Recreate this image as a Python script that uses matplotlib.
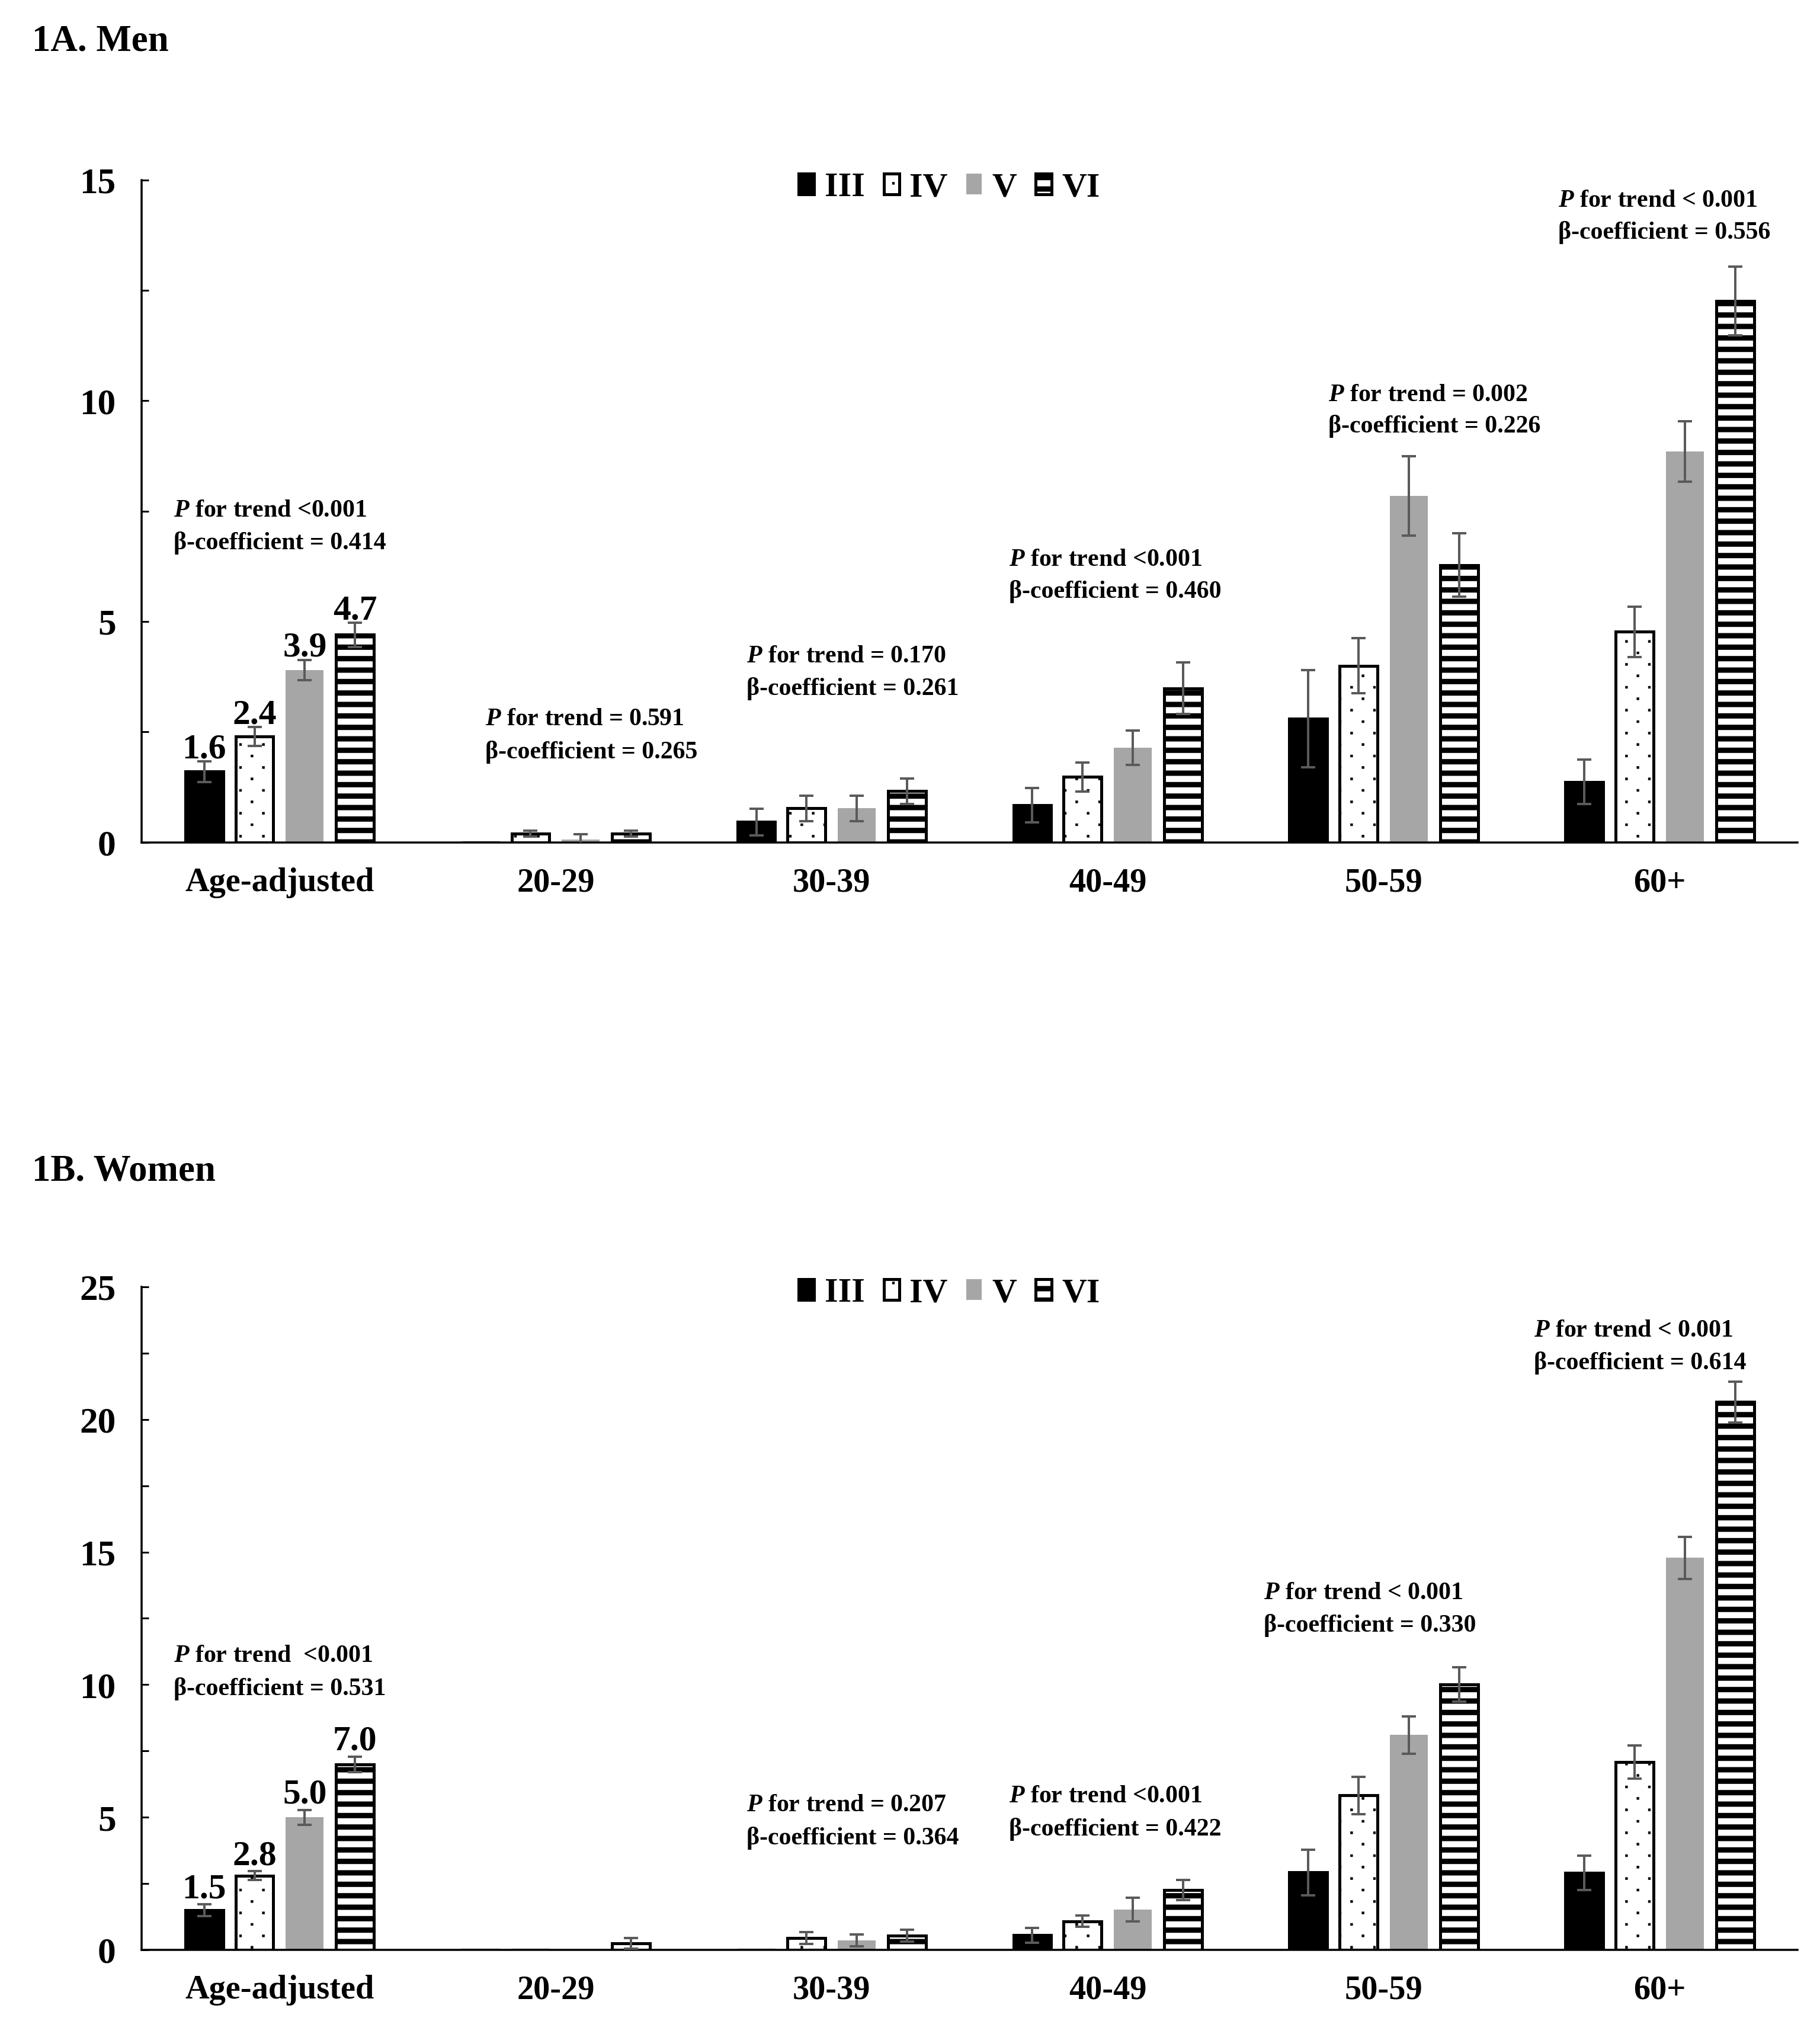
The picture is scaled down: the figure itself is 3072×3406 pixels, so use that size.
import numpy as np
import matplotlib
matplotlib.use("Agg")
import matplotlib.pyplot as plt
import matplotlib.hatch as mhatch
from matplotlib.path import Path
from matplotlib.ticker import MultipleLocator

# ---------------- data ----------------
categories = ["Age-adjusted", "20-29", "30-39", "40-49", "50-59", "60+"]
series_names = ["III", "IV", "V", "VI"]

# Men (panel 1A)
men_III = [1.6, 0.0, 0.46, 0.84, 2.80, 1.37]
men_IV = [2.4, 0.20, 0.77, 1.48, 4.00, 4.77]
men_V = [3.9, 0.07, 0.77, 2.14, 7.85, 8.85]
men_VI = [4.7, 0.20, 1.16, 3.49, 6.28, 12.26]
men_III_err = [0.23, 0.0, 0.30, 0.39, 1.10, 0.50]
men_IV_err = [0.21, 0.07, 0.29, 0.33, 0.62, 0.57]
men_V_err = [0.23, 0.12, 0.29, 0.39, 0.90, 0.68]
men_VI_err = [0.27, 0.07, 0.29, 0.58, 0.72, 0.78]
men_ptrend = ["<0.001", "= 0.591", "= 0.170", "<0.001", "= 0.002", "< 0.001"]
men_beta = ["0.414", "0.265", "0.261", "0.460", "0.226", "0.556"]

# Women (panel 1B)
women_III = [1.5, 0.0, 0.0, 0.55, 2.92, 2.90]
women_IV = [2.8, 0.0, 0.44, 1.08, 5.82, 7.08]
women_V = [5.0, 0.0, 0.35, 1.52, 8.10, 14.78]
women_VI = [7.0, 0.25, 0.53, 2.26, 10.0, 20.66]
women_III_err = [0.22, 0.0, 0.0, 0.28, 0.86, 0.65]
women_IV_err = [0.16, 0.0, 0.22, 0.22, 0.71, 0.63]
women_V_err = [0.28, 0.0, 0.22, 0.45, 0.70, 0.80]
women_VI_err = [0.29, 0.20, 0.22, 0.38, 0.65, 0.77]
women_ptrend = [" <0.001", None, "= 0.207", "<0.001", "< 0.001", "< 0.001"]
women_beta = ["0.531", None, "0.364", "0.422", "0.330", "0.614"]

# ---------------- layout / style ----------------
DPI = 116
W, H = 3072, 3406
plt.rcParams["font.family"] = ["Liberation Serif", "DejaVu Serif"]
plt.rcParams["font.weight"] = "bold"
plt.rcParams["mathtext.fontset"] = "custom"
plt.rcParams["mathtext.it"] = "Liberation Serif:italic:bold"
plt.rcParams["mathtext.rm"] = "Liberation Serif:bold"
plt.rcParams["mathtext.bf"] = "Liberation Serif:bold"


# sparse staggered square-dot hatch (replaces the '.' pattern)
class SparseDots(mhatch.HatchPatternBase):
    half = 0.016

    def __init__(self, hatch, density):
        n = hatch.count(".")
        self.rows = 6 * n
        self.cols = 3 * n
        self.centers = []
        if n:
            for r in range(self.rows + 1):
                y = r / self.rows
                if r % 2 == 0:
                    xs = np.arange(self.cols + 1) / self.cols
                else:
                    xs = (np.arange(self.cols) + 0.5) / self.cols
                for xx in xs:
                    self.centers.append((xx, y))
        self.num_vertices = len(self.centers) * 5

    def set_vertices_and_codes(self, vertices, codes):
        h = self.half
        sq = np.array([[-h, -h], [h, -h], [h, h], [-h, h], [-h, -h]])
        sc = [Path.MOVETO, Path.LINETO, Path.LINETO, Path.LINETO, Path.CLOSEPOLY]
        for k, (cx, cy) in enumerate(self.centers):
            vertices[5 * k:5 * k + 5] = sq + [cx, cy]
            codes[5 * k:5 * k + 5] = sc


mhatch._hatch_types = [SparseDots if t is mhatch.SmallFilledCircles else t
                       for t in mhatch._hatch_types]

fig = plt.figure(figsize=((W + 0.4) / DPI, (H + 0.4) / DPI), dpi=DPI)

left_px, right_px = 239, 3034
ax_top = fig.add_axes([left_px / W, 1 - 1422 / H, (right_px - left_px) / W, (1422 - 304) / H])
ax_bot = fig.add_axes([left_px / W, 1 - 3291 / H, (right_px - left_px) / W, (3291 - 2172) / H])

bw = 0.137
pitch = 0.182
offsets = [(-1.5 + i) * pitch for i in range(4)]
px2pt = 72.0 / DPI
edge_lw = 5 * px2pt
styles = [
    dict(fc="black", ec="black", lw=edge_lw, hatch=None, hlw=None),
    dict(fc="white", ec="black", lw=edge_lw, hatch=".", hlw=0.4),
    dict(fc="#a6a6a6", ec="none", lw=0, hatch=None, hlw=None),
    dict(fc="white", ec="black", lw=edge_lw, hatch="-", hlw=9 * px2pt),
]
err_color = "#5a5a5a"

# annotation positions (x in category units, y of each line in data units)
men_ann_pos = [(-0.384, 7.51, 6.78), (0.745, 2.79, 2.05), (1.692, 4.21, 3.49),
               (2.643, 6.40, 5.68), (3.80, 10.13, 9.43), (4.631, 14.53, 13.81)]
women_ann_pos = [(-0.384, 11.08, 9.85), None, (1.692, 5.45, 4.22),
                 (2.643, 5.79, 4.56), (3.566, 13.45, 12.24), (4.545, 23.35, 22.14)]


def set_hatch_lw(artist, lw):
    if lw is not None and hasattr(artist, "set_hatch_linewidth"):
        artist.set_hatch_linewidth(lw)


def draw_panel(ax, vals, errs, ymax, ptrend, beta, ann_pos, label_off, legend_y):
    x = np.arange(len(categories))
    for i in range(4):
        st = styles[i]
        v = np.asarray(vals[i], dtype=float)
        e = np.asarray(errs[i], dtype=float)
        xs = x + offsets[i]
        with plt.rc_context({"hatch.linewidth": st["hlw"] if st["hlw"] else 1.0}):
            bars = ax.bar(xs, v, width=bw, color=st["fc"], edgecolor=st["ec"],
                          linewidth=st["lw"], hatch=st["hatch"], label=series_names[i],
                          zorder=2)
        for b in bars:
            set_hatch_lw(b, st["hlw"])
        m = e > 0
        ax.errorbar(xs[m], v[m], yerr=e[m], fmt="none", ecolor=err_color,
                    elinewidth=4 * px2pt, capsize=12 * px2pt, capthick=4 * px2pt,
                    zorder=3)
        ax.annotate(f"{v[0]:.1f}", (xs[0], v[0] + e[0]), xytext=(0, label_off),
                    textcoords="offset points", ha="center", va="baseline",
                    fontsize=37, fontweight="bold")

    for j in range(len(categories)):
        if ann_pos[j] is None or ptrend[j] is None:
            continue
        ax_x, y1, y2 = ann_pos[j]
        ax.text(ax_x, y1, "$P$ for trend " + ptrend[j], ha="left", va="center",
                fontsize=26, fontweight="bold")
        ax.text(ax_x, y2, "\u03b2-coefficient = " + beta[j], ha="left", va="center",
                fontsize=26, fontweight="bold")

    ax.set_xlim(-0.5, len(categories) - 0.5)
    ax.set_ylim(0, ymax)
    ax.set_xticks(x)
    ax.set_xticklabels(categories, fontsize=35, fontweight="bold")
    ax.tick_params(axis="x", length=0, pad=26)
    ax.yaxis.set_major_locator(MultipleLocator(5))
    ax.yaxis.set_minor_locator(MultipleLocator(2.5))
    ax.tick_params(axis="y", which="both", direction="in", length=12 * px2pt,
                   width=3 * px2pt, pad=27, labelsize=38)
    for lab in ax.get_yticklabels():
        lab.set_fontweight("bold")
    for s in ["top", "right"]:
        ax.spines[s].set_visible(False)
    for s in ["left", "bottom"]:
        ax.spines[s].set_linewidth(3.5 * px2pt)
        ax.spines[s].set_color("black")

    leg = ax.legend(loc="center", bbox_to_anchor=(0.4877, legend_y), ncol=4,
                    frameon=False, prop=dict(size=36, weight="bold"),
                    handlelength=0.45, handleheight=0.55, handletextpad=0.3,
                    columnspacing=0.55, borderpad=0, borderaxespad=0)
    for h, st in zip(leg.legend_handles, styles):
        set_hatch_lw(h, st["hlw"])


draw_panel(ax_top, [men_III, men_IV, men_V, men_VI],
           [men_III_err, men_IV_err, men_V_err, men_VI_err], 15,
           men_ptrend, men_beta, men_ann_pos, 4, 0.988)
draw_panel(ax_bot, [women_III, women_IV, women_V, women_VI],
           [women_III_err, women_IV_err, women_V_err, women_VI_err], 25,
           women_ptrend, women_beta, women_ann_pos, 7, 0.990)

fig.text(54 / W, 1 - 70 / H, "1A. Men", ha="left", va="center", fontsize=39,
         fontweight="bold")
fig.text(54 / W, 1 - 1977 / H, "1B. Women", ha="left", va="center", fontsize=39,
         fontweight="bold")

fig.savefig("out.png", dpi=DPI, facecolor="white")
